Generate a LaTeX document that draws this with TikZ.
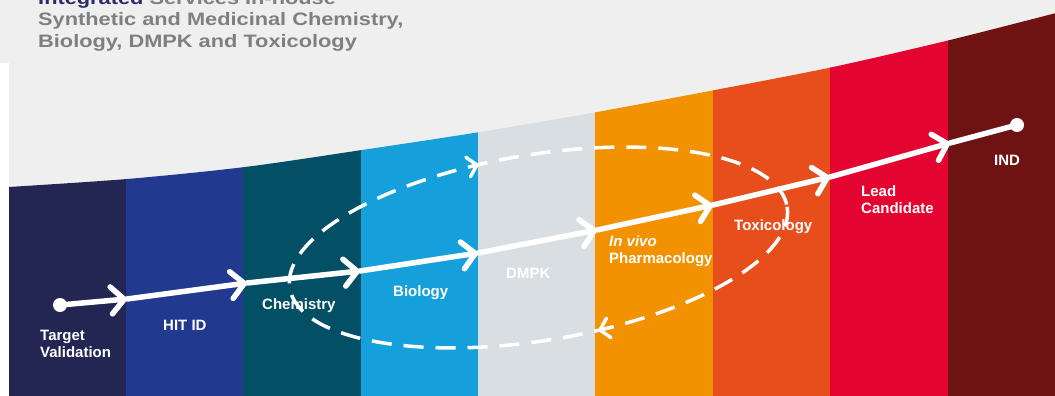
\documentclass[tikz,border=0pt]{standalone}
\usepackage{fontspec}
\setmainfont{Liberation Sans}
\newfontfamily\titlefont[FakeStretch=1.21]{Liberation Sans}
\usetikzlibrary{arrows.meta,decorations.markings}
\definecolor{bg}{HTML}{EFEFEF}
\definecolor{sA}{HTML}{232653}
\definecolor{sB}{HTML}{213A8F}
\definecolor{sC}{HTML}{034F66}
\definecolor{sD}{HTML}{16A0DB}
\definecolor{sE}{HTML}{D9DEE2}
\definecolor{sF}{HTML}{F39200}
\definecolor{sG}{HTML}{E84E1B}
\definecolor{sH}{HTML}{E30432}
\definecolor{sI}{HTML}{6E1214}
\definecolor{titlegray}{HTML}{7F7F7F}
\definecolor{titlenavy}{HTML}{2B2A6B}
\tikzset{
  mainline/.style={draw=white, line width=5.5pt, line cap=round, line join=round},
  chev/.style={mainline, -{Straight Barb[length=13pt,width=27pt,round]}},
  dashring/.style={draw=white, line width=3.5pt, dash pattern=on 20pt off 12pt,
    postaction={decorate},
    decoration={markings,
      mark=at position 0.21 with {\arrow{Straight Barb[length=9pt,width=20pt,round]}},
      mark=at position 0.71 with {\arrow{Straight Barb[length=9pt,width=20pt,round]}}}},
  lbl/.style={text=white, font=\bfseries\fontsize{15}{17}\selectfont, inner sep=0pt,
    anchor=base west, align=left},
  ttl/.style={font=\titlefont\bfseries\fontsize{18}{22}\selectfont, inner sep=0pt,
    anchor=base west, align=left, text=titlegray},
  enddot/.style={circle, fill=white, inner sep=0pt, minimum size=14pt}
}
\begin{document}
\begin{tikzpicture}[x=1pt,y=-1pt]
\useasboundingbox (0,0) rectangle (1055,396);
\fill[bg] (0,0) rectangle (1055,396);
% stripes below the curved top edge
\begin{scope}
  \clip plot[smooth] coordinates {(8.5,187) (127,179) (245,167) (362,150) (480,132)
     (597,112) (715,90) (833,67) (950,40) (1060,12)} -- (1060,400) -- (8.5,400) -- cycle;
  \foreach \c [count=\i from 0] in {sA,sB,sC,sD,sE,sF,sG,sH,sI}
    \fill[\c] ({8.5+117.39*\i},0) rectangle ({8.5+117.39*(\i+1)+0.5},400);
\end{scope}
\fill[white] (0,63) rectangle (8.5,396);
% title (top line is cut by the picture's upper edge, as in the reference)
\node[ttl] (head) at (38,5) {\textcolor{titlenavy}{Integrated} Services In-house};
\node[ttl] (title) at (38,48) {Synthetic and Medicinal Chemistry,\\Biology, DMPK and Toxicology};
% dashed loop
\coordinate (ec) at (538.5,247.5);
\draw[dashring, rotate around={9.3:(ec)}] (ec) ellipse [x radius=252, y radius=93];
% main path
\node[enddot] (p0) at (60,305) {};
\coordinate (p1) at (127,299);
\coordinate (p2) at (247,283);
\coordinate (p3) at (360,271);
\coordinate (p4) at (478,253);
\coordinate (p5) at (597,230);
\coordinate (p6) at (713,205);
\coordinate (p7) at (830,177);
\coordinate (p8) at (950,143);
\node[enddot] (p9) at (1017,125) {};
\draw[chev] (p0.center) -- (p1);
\draw[chev] (p1) -- (p2);
\draw[chev] (p2) -- (p3);
\draw[chev] (p3) -- (p4);
\draw[chev] (p4) -- (p5);
\draw[chev] (p5) -- (p6);
\draw[chev] (p6) -- (p7);
\draw[chev] (p7) -- (p8);
\draw[mainline] (p8) -- (p9.center);
% labels (multi-line: base = last line)
\node[lbl] (tv) at (40,357) {Target\\Validation};
\node[lbl] (hit) at (163,330) {HIT ID};
\node[lbl] (chem) at (262,309) {Chemistry};
\node[lbl] (bio) at (393,296) {Biology};
\node[lbl] (dmpk) at (506,278) {DMPK};
\node[lbl] (pharm) at (609,263) {\itshape In vivo\\Pharmacology};
\node[lbl] (tox) at (734,230) {Toxicology};
\node[lbl] (lead) at (861,213) {Lead\\Candidate};
\node[lbl] (ind) at (994,165) {IND};
\end{tikzpicture}
\end{document}
